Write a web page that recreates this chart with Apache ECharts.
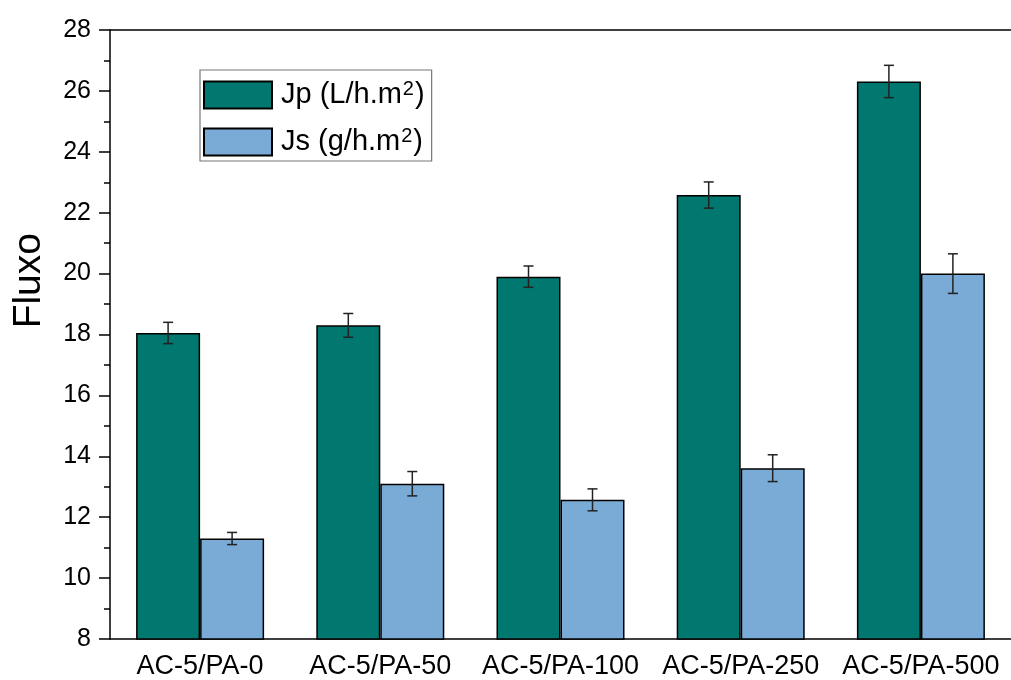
<!DOCTYPE html>
<html>
<head>
<meta charset="utf-8">
<script src="https://cdn.jsdelivr.net/npm/echarts@6/dist/echarts.min.js"></script>
<style>
html,body{margin:0;padding:0;background:#fff;}
#chart{width:1011px;height:680px;}
</style>
</head>
<body>
<div id="chart"></div>
<script>
const categories = ['AC-5/PA-0', 'AC-5/PA-50', 'AC-5/PA-100', 'AC-5/PA-250', 'AC-5/PA-500'];
const jpValues = [18.05, 18.30, 19.90, 22.58, 26.31];
const jpErrors = [0.35, 0.39, 0.35, 0.43, 0.53];
const jsValues = [11.30, 13.10, 12.57, 13.61, 20.00];
const jsErrors = [0.20, 0.40, 0.36, 0.44, 0.65];
const yTicks = {min: 8, max: 28, interval: 2};

const FONT = 'Liberation Sans, Arial, sans-serif';
const BAR_W = 64;
const JP_COLOR = '#00786F';
const JS_COLOR = '#7AABD6';

function errorSeries(name, values, errors, offset) {
  return {
    type: 'custom',
    name: name + ' err',
    xAxisIndex: 0,
    yAxisIndex: 0,
    z: 10,
    silent: true,
    data: values.map((v, i) => [i, v, errors[i]]),
    renderItem: function (params, api) {
      const i = api.value(0), v = api.value(1), e = api.value(2);
      const top = api.coord([i, v + e]);
      const bot = api.coord([i, v - e]);
      const x = top[0] + offset;
      const cap = 5;
      const style = {stroke: '#222', lineWidth: 1.5};
      return {
        type: 'group',
        children: [
          {type: 'line', shape: {x1: x, y1: top[1], x2: x, y2: bot[1]}, style: style},
          {type: 'line', shape: {x1: x - cap, y1: top[1], x2: x + cap, y2: top[1]}, style: style},
          {type: 'line', shape: {x1: x - cap, y1: bot[1], x2: x + cap, y2: bot[1]}, style: style}
        ]
      };
    }
  };
}

const chart = echarts.init(document.getElementById('chart'));
chart.setOption({
  backgroundColor: '#ffffff',
  animation: false,
  grid: {left: 110, top: 30, right: -14, bottom: 38},
  legend: {
    orient: 'vertical',
    left: 200,
    top: 70,
    selectedMode: false,
    itemWidth: 68,
    itemHeight: 27,
    itemGap: 15,
    padding: [9, 7, 3, 3],
    borderColor: '#777',
    borderWidth: 1.2,
    icon: 'rect',
    data: ['Jp', 'Js'],
    formatter: function (name) {
      return name === 'Jp' ? 'Jp (L/h.m{sup|2})' : 'Js (g/h.m{sup|2})';
    },
    textStyle: {
      fontFamily: FONT,
      fontSize: 29,
      lineHeight: 32,
      color: '#000',
      padding: [0, 0, 0, 4],
      rich: {
        sup: {fontFamily: FONT, fontSize: 20, lineHeight: 20, verticalAlign: 'top', padding: [0, 1, 12, 1], color: '#000'}
      }
    }
  },
  graphic: [{
    type: 'text',
    left: 10,
    top: 233,
    rotation: Math.PI / 2,
    style: {text: 'Fluxo', fontFamily: FONT, fontSize: 39, fill: '#000'}
  }],
  xAxis: [
    {
      type: 'category',
      data: categories,
      position: 'bottom',
      axisLine: {lineStyle: {color: '#000', width: 1.5}},
      axisTick: {alignWithLabel: true, length: 11, lineStyle: {color: '#000', width: 1.5}},
      axisLabel: {interval: 0, fontFamily: FONT, fontSize: 27, color: '#000', margin: 14},
      splitLine: {show: false}
    },
    {
      type: 'category',
      data: categories,
      position: 'bottom',
      axisLine: {show: false},
      axisTick: {alignWithLabel: false, interval: 0, length: 6, lineStyle: {color: '#000', width: 1.5}},
      axisLabel: {show: false},
      splitLine: {show: false}
    },
    {
      type: 'category',
      data: categories,
      position: 'top',
      axisLine: {lineStyle: {color: '#000', width: 1.5}},
      axisTick: {alignWithLabel: true, interval: 0, inside: true, length: 5, lineStyle: {color: '#000', width: 1.5}},
      axisLabel: {show: false},
      splitLine: {show: false}
    }
  ],
  yAxis: [{
    type: 'value',
    min: yTicks.min,
    max: yTicks.max,
    interval: yTicks.interval,
    axisLine: {show: true, lineStyle: {color: '#000', width: 1.5}},
    axisTick: {show: true, length: 11, lineStyle: {color: '#000', width: 1.5}},
    minorTick: {show: true, splitNumber: 2, length: 6, lineStyle: {color: '#000', width: 1.5}},
    axisLabel: {fontFamily: FONT, fontSize: 25, color: '#000', margin: 19},
    splitLine: {show: false}
  }],
  series: [
    {
      name: 'Jp',
      type: 'bar',
      xAxisIndex: 0,
      barWidth: BAR_W,
      barGap: '0%',
      data: jpValues,
      itemStyle: {color: JP_COLOR, borderColor: '#000', borderWidth: 1.5}
    },
    {
      name: 'Js',
      type: 'bar',
      xAxisIndex: 0,
      barWidth: BAR_W,
      barGap: '0%',
      data: jsValues,
      itemStyle: {color: JS_COLOR, borderColor: '#000', borderWidth: 1.5}
    },
    errorSeries('Jp', jpValues, jpErrors, -BAR_W / 2),
    errorSeries('Js', jsValues, jsErrors, BAR_W / 2)
  ]
});
</script>
</body>
</html>
